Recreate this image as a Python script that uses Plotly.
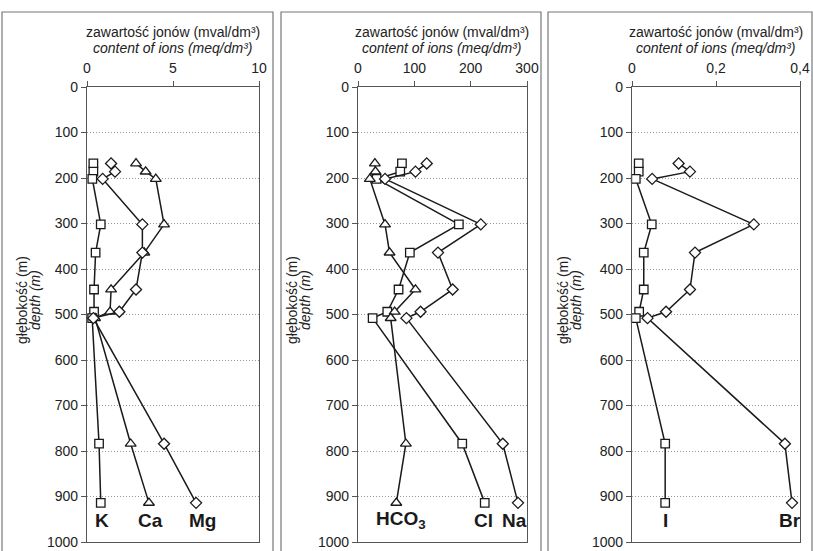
import plotly.graph_objects as go

# depths (m) of sampling points
depth = [168, 186, 202, 302, 364, 445, 494, 508, 784, 914]

# panel 1 (mval/dm3)
K = [0.37, 0.37, 0.31, 0.8, 0.5, 0.41, 0.41, 0.3, 0.7, 0.8]
Ca = [2.85, 3.41, 4.0, 4.48, 3.33, 1.4, 1.34, 0.47, 2.54, 3.6]
Mg = [1.4, 1.63, 0.91, 3.22, 3.22, 2.85, 1.88, 0.37, 4.48, 6.34]

# panel 2
Cl = [78, 75, 33, 179, 92, 72, 52, 26, 185, 225]
Na = [122, 102, 48, 218, 142, 168, 111, 86, 257, 284]
HCO3 = [30, 31, 21, 48, 56, 102, 65, 58, 85, 68]

# panel 3
I = [0.016, 0.016, 0.009, 0.047, 0.028, 0.028, 0.017, 0.009, 0.079, 0.079]
Br = [0.111, 0.138, 0.048, 0.29, 0.15, 0.138, 0.081, 0.037, 0.364, 0.381]

x_ticks = [[0, 5, 10], [0, 100, 200, 300], [0, 0.2, 0.4]]
x_ticktext = [["0", "5", "10"], ["0", "100", "200", "300"], ["0", "0,2", "0,4"]]
x_ranges = [[0, 10], [0, 300], [0, 0.4]]
y_ticks = list(range(0, 1001, 100))

SQ, TR, DM = 8.5, 9.5, 8.5
series = [
    (1, K, "square", SQ), (1, Ca, "triangle-up", TR), (1, Mg, "diamond", DM),
    (2, Cl, "square", SQ), (2, Na, "diamond", DM), (2, HCO3, "triangle-up", TR),
    (3, I, "square", SQ), (3, Br, "diamond", DM),
]

labels = [
    (1, 0.85, "K"), (1, 3.7, "Ca"), (1, 6.7, "Mg"),
    (2, 76, "HCO<sub>3</sub>"), (2, 222, "Cl"), (2, 277, "Na"),
    (3, 0.080, "I"), (3, 0.375, "Br"),
]
label_depth = 952

FONT = "Liberation Sans, Arial, sans-serif"
W, H = 813, 551
plot_x = [(87, 259), (358, 527), (632, 800)]
frames = [(2, 273), (281, 541), (548, 812)]
ytitle_x = [(22, 35), (292, 305), (563, 576)]
ytop, ybot = 87, 542

fig = go.Figure()
for p, vals, sym, sz in series:
    fig.add_trace(go.Scatter(
        x=vals, y=depth, mode="lines+markers",
        xaxis="x" if p == 1 else f"x{p}", yaxis="y" if p == 1 else f"y{p}",
        line=dict(color="#1a1a1a", width=1.5),
        marker=dict(symbol=sym, size=sz, color="white",
                    line=dict(color="#1a1a1a", width=1.3)),
        showlegend=False, cliponaxis=False,
    ))

layout = dict(
    template="none",
    width=W, height=H, margin=dict(l=0, r=0, t=0, b=0, pad=0, autoexpand=False),
    paper_bgcolor="white", plot_bgcolor="white",
    font=dict(family=FONT, size=14, color="#222"),
    showlegend=False,
)
annotations = []
shapes = []
for i in range(3):
    xa = "xaxis" if i == 0 else f"xaxis{i+1}"
    ya = "yaxis" if i == 0 else f"yaxis{i+1}"
    yref = "y" if i == 0 else f"y{i+1}"
    xref = "x" if i == 0 else f"x{i+1}"
    x0, x1 = plot_x[i]
    layout[xa] = dict(
        domain=[x0 / W, x1 / W], range=x_ranges[i], side="top",
        anchor=yref, tickvals=x_ticks[i], ticktext=x_ticktext[i],
        showline=True, mirror=True, linecolor="#555", linewidth=1.2,
        ticks="outside", ticklen=5, tickcolor="#555", tickwidth=1, showgrid=False,
        zeroline=False, fixedrange=True, ticklabelstandoff=2, automargin=False,
        tickfont=dict(family=FONT, size=14, color="#222"),
    )
    layout[ya] = dict(
        domain=[1 - ybot / H, 1 - ytop / H], range=[1000, 0],
        anchor=xref, tickvals=y_ticks,
        showline=True, mirror=True, linecolor="#555", linewidth=1.2,
        ticks="outside", ticklen=5, tickcolor="#555", tickwidth=1,
        showgrid=True, gridcolor="#999", griddash="1px,2px", gridwidth=1,
        zeroline=False, fixedrange=True, automargin=False,
        tickfont=dict(family=FONT, size=14, color="#222"),
    )
    cx = (x0 + x1) / 2 / W
    annotations.append(dict(xref="paper", yref="paper", x=cx, y=1 - 32 / H,
                            text="zawartość jonów (mval/dm³)", showarrow=False,
                            font=dict(family=FONT, size=14, color="#222"),
                            xanchor="center", yanchor="middle"))
    annotations.append(dict(xref="paper", yref="paper", x=cx, y=1 - 48 / H,
                            text="<i>content of ions (meq/dm³)</i>", showarrow=False,
                            font=dict(family=FONT, size=14, color="#222"),
                            xanchor="center", yanchor="middle"))
    tx1, tx2 = ytitle_x[i]
    annotations.append(dict(xref="paper", yref="paper", x=tx1 / W, y=1 - 300 / H,
                            text="głębokość (m)", textangle=-90, showarrow=False,
                            font=dict(family=FONT, size=14, color="#222"),
                            xanchor="center", yanchor="middle"))
    annotations.append(dict(xref="paper", yref="paper", x=tx2 / W, y=1 - 300 / H,
                            text="<i>depth (m)</i>", textangle=-90, showarrow=False,
                            font=dict(family=FONT, size=14, color="#222"),
                            xanchor="center", yanchor="middle"))
    fx0, fx1 = frames[i]
    shapes.append(dict(type="rect", xref="paper", yref="paper",
                       x0=fx0 / W, x1=fx1 / W, y0=-0.01, y1=1 - 12 / H,
                       line=dict(color="#777", width=1.2)))

for p, xv, txt in labels:
    annotations.append(dict(xref="x" if p == 1 else f"x{p}",
                            yref="y" if p == 1 else f"y{p}",
                            x=xv, y=label_depth, text=f"<b>{txt}</b>",
                            showarrow=False, xanchor="center", yanchor="middle",
                            font=dict(family=FONT, size=19, color="#1a1a1a")))

layout["annotations"] = annotations
layout["shapes"] = shapes
fig.update_layout(**layout)
fig.write_html(
    "out.html",
    config={"displayModeBar": False},
    post_script="document.body.style.margin='0';document.body.style.overflow='hidden';",
)
